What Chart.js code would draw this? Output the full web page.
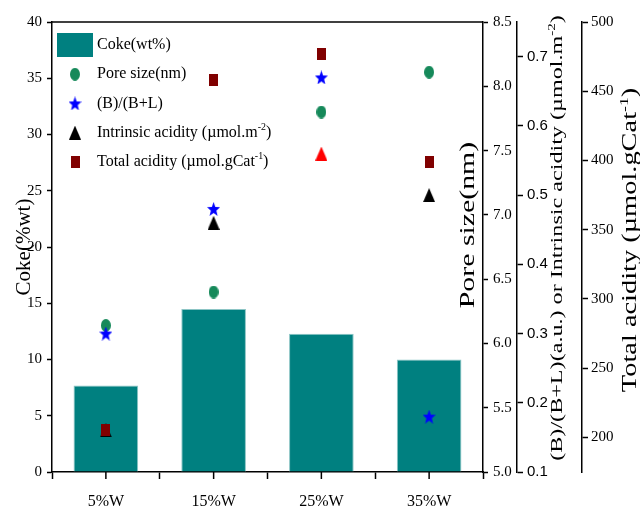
<!DOCTYPE html>
<html>
<head>
<meta charset="utf-8">
<script src="https://cdn.jsdelivr.net/npm/chart.js@4.4.0/dist/chart.umd.min.js"></script>
<style>
  html, body { margin: 0; padding: 0; background: #fff; }
</style>
</head>
<body>
<canvas id="coke-chart" width="640" height="511"></canvas>
<script>
// catalyst samples and measured properties
const samples = ['5%W', '15%W', '25%W', '35%W'];
const coke = [7.7, 14.5, 12.3, 10.0];
const poreSize = [6.14, 6.40, 7.80, 8.11];
const bRatio = [0.30, 0.48, 0.67, 0.18];
const intrinsicAcidity = [0.16, 0.46, 0.56, 0.50];
const totalAcidity = [205, 458, 477, 399];

const poreTicks = [5.0, 8.5, 0.5];
const acidTicks = [0.1, 0.75, 0.1];
const totalTicks = [175, 500, 50];

const SERIF = '"Liberation Serif", "Times New Roman", serif';
const SANS = '"Liberation Sans", Arial, sans-serif';

// small canvas markers, a bit taller than wide
function makeMarker(w, h, color, shape) {
    const c = document.createElement('canvas');
    c.width = w;
    c.height = h;
    const g = c.getContext('2d');
    g.fillStyle = color;
    g.beginPath();
    if (shape === 'ellipse') {
        g.ellipse(w / 2, h / 2, w / 2, h / 2, 0, 0, Math.PI * 2);
    } else if (shape === 'rect') {
        g.rect(0, 0, w, h);
    } else if (shape === 'triangle') {
        g.moveTo(w / 2, 0);
        g.lineTo(w, h);
        g.lineTo(0, h);
        g.closePath();
    } else if (shape === 'star') {
        const rx = w / 1.902, ry = h / 1.809, cy = ry;
        for (let i = 0; i < 10; i++) {
            const r = i % 2 ? 0.42 : 1;
            const a = -Math.PI / 2 + i * Math.PI / 5;
            g.lineTo(w / 2 + r * rx * Math.cos(a), cy + r * ry * Math.sin(a));
        }
        g.closePath();
    }
    g.fill();
    return c;
}

const greenDot = makeMarker(10, 13, '#16895a', 'ellipse');
const blueStar = makeMarker(13, 14, '#0000ff', 'star');
const blackTri = makeMarker(12, 14, '#000000', 'triangle');
const redTri = makeMarker(12, 14, '#ff0000', 'triangle');
const redSquare = makeMarker(9, 12, '#800000', 'rect');

// text with superscript parts: [[text, isSup], ...]
function drawRich(ctx, parts, x, y, size, family, centered) {
    ctx.textBaseline = 'middle';
    ctx.textAlign = 'left';
    const widths = parts.map(p => {
        ctx.font = (p[1] ? size * 0.62 : size) + 'px ' + family;
        return ctx.measureText(p[0]).width;
    });
    let cx = centered ? x - widths.reduce((a, b) => a + b, 0) / 2 : x;
    parts.forEach((p, i) => {
        ctx.font = (p[1] ? size * 0.62 : size) + 'px ' + family;
        ctx.fillText(p[0], cx, p[1] ? y - size * 0.33 : y);
        cx += widths[i];
    });
}

// rotated axis title, drawn tall and narrow
function drawVertical(ctx, parts, x, y, size, family) {
    ctx.save();
    ctx.translate(x, y);
    ctx.scale(1, 1.42);
    ctx.rotate(-Math.PI / 2);
    drawRich(ctx, parts, 0, 0, size, family, true);
    ctx.restore();
}

const extras = {
    id: 'extras',
    afterDraw(chart) {
        const ctx = chart.ctx;
        const area = chart.chartArea;
        const xs = chart.scales.x;
        ctx.save();
        ctx.strokeStyle = '#000';
        ctx.fillStyle = '#000';
        ctx.lineWidth = 1.5;

        // top frame line
        ctx.beginPath();
        ctx.moveTo(area.left, area.top);
        ctx.lineTo(area.right, area.top);
        ctx.stroke();

        // tick marks under each sample
        samples.forEach((s, i) => {
            const px = xs.getPixelForValue(i);
            ctx.beginPath();
            ctx.moveTo(px, area.bottom);
            ctx.lineTo(px, area.bottom + 7);
            ctx.stroke();
        });

        // right axis titles
        drawVertical(ctx, [['Pore size(nm)']], area.right - 15, 225, 21, SERIF);
        const yB = chart.scales.yB;
        drawVertical(ctx, [['(B)/(B+L)(a.u.) or Intrinsic acidity (\u00b5mol.m'], ['-2', true], [')']],
            yB.left + 41, 238, 17, SERIF);
        const yT = chart.scales.yTot;
        drawVertical(ctx, [['Total acidity (\u00b5mol.gCat'], ['-1', true], [')']],
            yT.left + 49, 240, 20, SERIF);

        // legend
        chart.data.datasets.forEach((ds, i) => {
            const cy = area.top + 23 + i * 29.2;
            if (ds.type === 'bar') {
                ctx.fillStyle = ds.backgroundColor;
                ctx.fillRect(area.left + 5, cy - 12, 36, 24);
            } else {
                const img = Array.isArray(ds.pointStyle) ? ds.pointStyle[0] : ds.pointStyle;
                ctx.drawImage(img, area.left + 23 - img.width / 2, cy - img.height / 2);
            }
            ctx.fillStyle = '#000';
            drawRich(ctx, ds.legendParts, area.left + 45, cy, 16, SERIF, false);
        });
        ctx.restore();
    }
};

const axisLine = { color: '#000', width: 1.5 };
const tickGrid = { drawOnChartArea: false, tickLength: 5, tickColor: '#000', tickWidth: 1.5 };

const ctx = document.getElementById('coke-chart').getContext('2d');
new Chart(ctx, {
    type: 'bar',
    data: {
        labels: samples,
        datasets: [{
            type: 'bar',
            label: 'Coke(wt%)',
            legendParts: [['Coke(wt%)']],
            data: coke,
            yAxisID: 'y',
            backgroundColor: '#008080',
            borderColor: '#8cc5c5',
            borderWidth: 1,
            barPercentage: 0.6,
            categoryPercentage: 1,
            order: 5
        }, {
            type: 'line',
            label: 'Pore size(nm)',
            legendParts: [['Pore size(nm)']],
            data: poreSize,
            yAxisID: 'yPore',
            showLine: false,
            pointStyle: greenDot,
            pointRadius: 6,
            order: 4
        }, {
            type: 'line',
            label: '(B)/(B+L)',
            legendParts: [['(B)/(B+L)']],
            data: bRatio,
            yAxisID: 'yB',
            showLine: false,
            pointStyle: blueStar,
            pointRadius: 6,
            order: 2
        }, {
            type: 'line',
            label: 'Intrinsic acidity',
            legendParts: [['Intrinsic acidity (\u00b5mol.m'], ['-2', true], [')']],
            data: intrinsicAcidity,
            yAxisID: 'yB',
            showLine: false,
            pointStyle: [blackTri, blackTri, redTri, blackTri],
            pointRadius: 6,
            order: 3
        }, {
            type: 'line',
            label: 'Total acidity',
            legendParts: [['Total acidity (\u00b5mol.gCat'], ['-1', true], [')']],
            data: totalAcidity,
            yAxisID: 'yTot',
            showLine: false,
            pointStyle: redSquare,
            pointRadius: 6,
            order: 1
        }]
    },
    options: {
        responsive: false,
        animation: false,
        events: [],
        layout: { padding: { top: 22 } },
        plugins: {
            legend: { display: false },
            tooltip: { enabled: false }
        },
        scales: {
            x: {
                grid: { offset: true, drawOnChartArea: false, tickLength: 7, tickColor: '#000', tickWidth: 1.5 },
                border: axisLine,
                ticks: { color: '#000', font: { family: SERIF, size: 16 }, padding: 13 },
                afterFit(s) { s.height = 39; }
            },
            y: {
                position: 'left',
                min: 0,
                max: 40,
                grid: tickGrid,
                border: axisLine,
                ticks: { stepSize: 5, color: '#000', font: { family: SERIF, size: 15 }, padding: 5 },
                title: { display: true, text: 'Coke(%wt)', color: '#000', font: { family: SERIF, size: 21 }, padding: { top: 12, bottom: 0 } },
                afterFit(s) { s.width = 52; }
            },
            yPore: {
                position: 'right',
                weight: 1,
                min: poreTicks[0],
                max: poreTicks[1],
                grid: tickGrid,
                border: axisLine,
                ticks: { stepSize: poreTicks[2], color: '#000', font: { family: SERIF, size: 15 }, padding: 5,
                    callback: v => v.toFixed(1) },
                afterFit(s) { s.width = 34; }
            },
            yB: {
                position: 'right',
                weight: 2,
                min: acidTicks[0],
                max: acidTicks[1],
                grid: { drawOnChartArea: false, tickLength: 6, tickColor: '#000', tickWidth: 1.5 },
                border: axisLine,
                ticks: { stepSize: acidTicks[2], includeBounds: false, color: '#000', font: { family: SANS, size: 15 }, padding: 4,
                    callback: v => v.toFixed(1) },
                afterFit(s) { s.width = 65; }
            },
            yTot: {
                position: 'right',
                weight: 3,
                min: totalTicks[0],
                max: totalTicks[1],
                grid: { drawOnChartArea: false, tickLength: 6, tickColor: '#000', tickWidth: 1.5 },
                border: axisLine,
                ticks: { stepSize: totalTicks[2], includeBounds: false, color: '#000', font: { family: SERIF, size: 15 }, padding: 3 },
                afterFit(s) { s.width = 58; }
            }
        }
    },
    plugins: [extras]
});
</script>
</body>
</html>
